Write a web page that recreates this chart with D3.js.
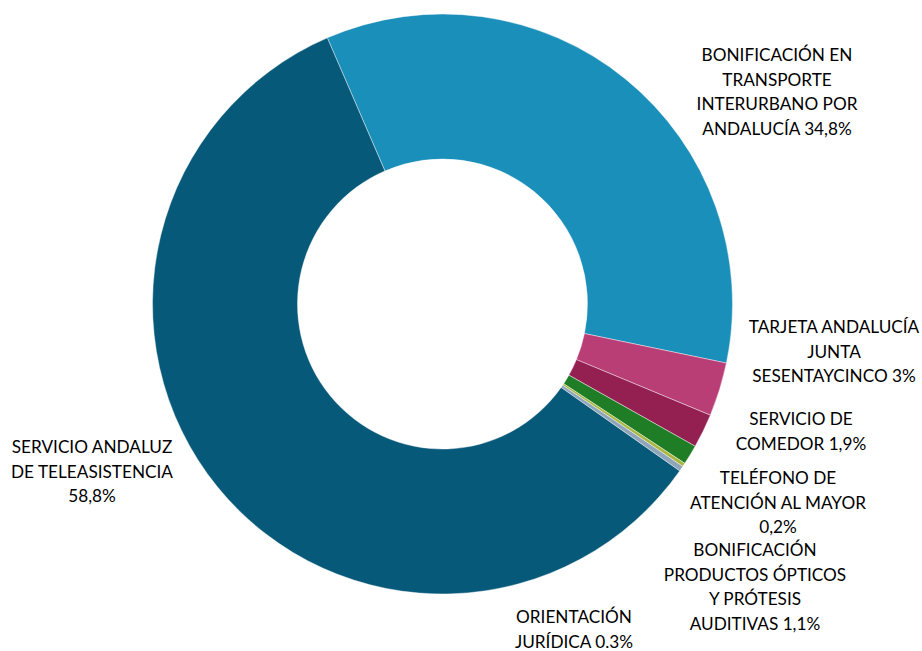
<!DOCTYPE html>
<html><head><meta charset="utf-8">
<script src="https://cdn.jsdelivr.net/npm/d3@7"></script>
<style>body{margin:0;background:#fff}svg{display:block}</style>
</head><body>
<svg id="c" width="922" height="651"></svg>
<script>
const categories = [
  "BONIFICACIÓN EN TRANSPORTE INTERURBANO POR ANDALUCÍA",
  "TARJETA ANDALUCÍA JUNTA SESENTAYCINCO",
  "SERVICIO DE COMEDOR",
  "BONIFICACIÓN PRODUCTOS ÓPTICOS Y PRÓTESIS AUDITIVAS",
  "TELÉFONO DE ATENCIÓN AL MAYOR",
  "ORIENTACIÓN JURÍDICA",
  "SERVICIO ANDALUZ DE TELEASISTENCIA"
];
const values = [34.8, 3, 1.9, 1.1, 0.2, 0.3, 58.8];
const labelLines = [
  ["BONIFICACIÓN EN", "TRANSPORTE", "INTERURBANO POR", "ANDALUCÍA 34,8%"],
  ["TARJETA ANDALUCÍA", "JUNTA", "SESENTAYCINCO 3%"],
  ["SERVICIO DE", "COMEDOR 1,9%"],
  ["BONIFICACIÓN", "PRODUCTOS ÓPTICOS", "Y PRÓTESIS", "AUDITIVAS 1,1%"],
  ["TELÉFONO DE", "ATENCIÓN AL MAYOR", "0,2%"],
  ["ORIENTACIÓN", "JURÍDICA 0.3%"],
  ["SERVICIO ANDALUZ", "DE TELEASISTENCIA", "58,8%"]
];
const colors = ["#198FBA", "#BA3E76", "#942052", "#1F7E25", "#A9B63F", "#8EA5BA", "#07597A"];

// label layout (center x, first-line center y)
const labelPos = [[777, 55], [834, 327], [801, 419], [755, 550], [778, 478], [574, 617], [92, 447]];
const lineH = 24.5;

const svg = d3.select("#c");
const cx = 442.5, cy = 304, R = 290, r = 145;
const startA = -23.4 * Math.PI / 180;

const pie = d3.pie().sort(null).value(d => d).startAngle(startA).endAngle(startA + 2 * Math.PI);
const arc = d3.arc().innerRadius(r).outerRadius(R);
const g = svg.append("g").attr("transform", `translate(${cx},${cy})`);
g.selectAll("path").data(pie(values)).join("path")
  .attr("d", arc)
  .attr("fill", (d, i) => colors[i])
  .attr("stroke", "rgba(255,255,255,0.6)")
  .attr("stroke-width", 0.7);

const lg = svg.append("g")
  .attr("font-family", "Lato, 'Open Sans', sans-serif")
  .attr("font-size", 17.2)
  .attr("fill", "#000");
labelLines.forEach((lines, i) => {
  const t = lg.append("text").attr("text-anchor", "middle");
  lines.forEach((s, j) => {
    t.append("tspan").attr("x", labelPos[i][0]).attr("y", labelPos[i][1] + j * lineH)
      .attr("dy", "0.35em").text(s);
  });
});
</script>
</body></html>
